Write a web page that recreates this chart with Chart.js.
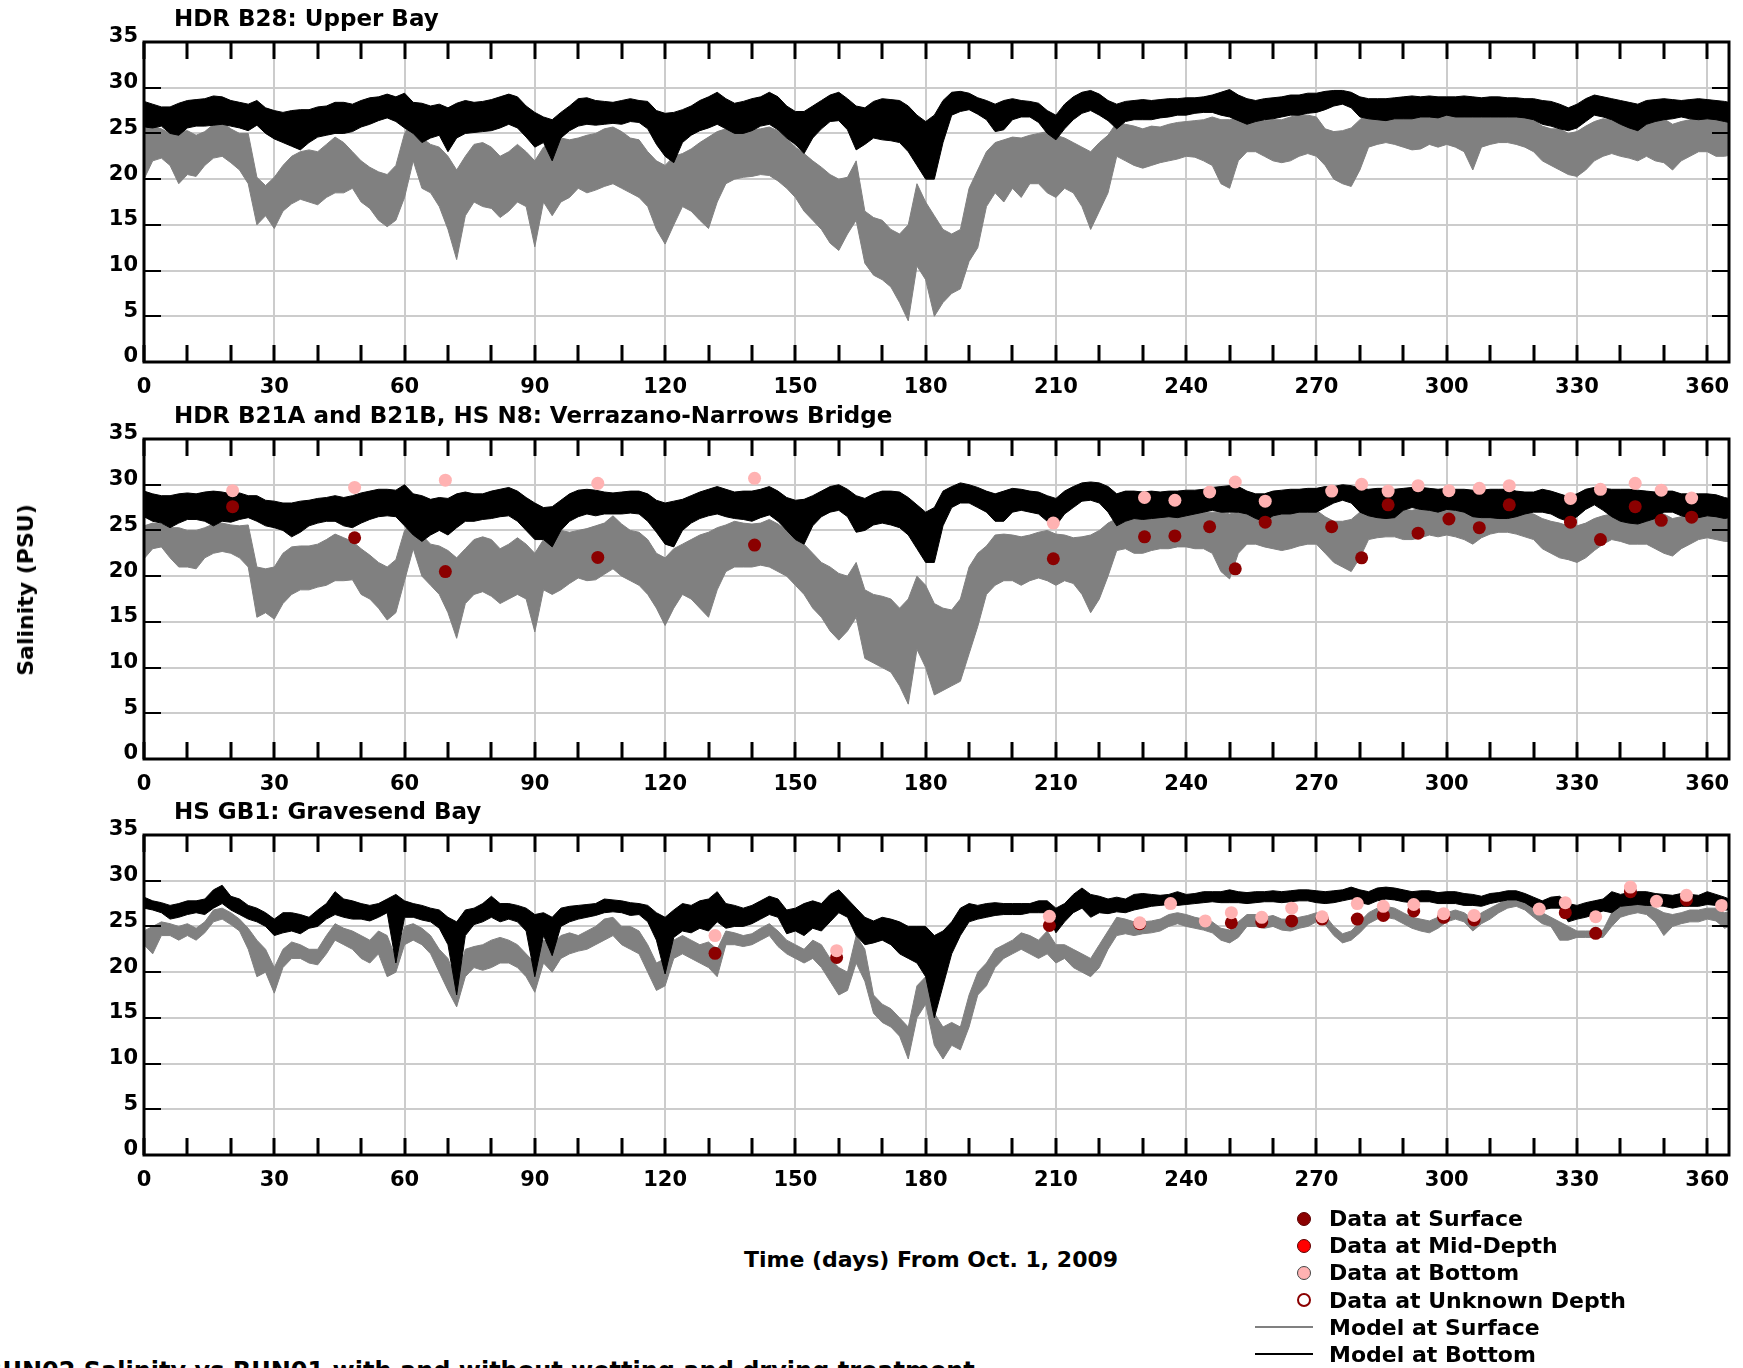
<!DOCTYPE html>
<html>
<head>
<meta charset="utf-8">
<script src="https://cdn.jsdelivr.net/npm/chart.js@4.4.1/dist/chart.umd.min.js"></script>
<style>
  html, body { margin: 0; padding: 0; background: #fff; }
  body { width: 1743px; height: 1368px; position: relative; overflow: hidden; font-family: "DejaVu Sans", sans-serif; font-weight: bold; color: #000; }
  .cv { position: absolute; left: 0; }
  .txt { position: absolute; white-space: nowrap; line-height: 1; }
  .dot { position: absolute; width: 14px; height: 14px; border-radius: 50%; box-sizing: border-box; }
  .lg-line { position: absolute; height: 2px; }
</style>
</head>
<body>
<canvas id="c1" class="cv" width="1743" height="400" style="top:22px"></canvas>
<canvas id="c2" class="cv" width="1743" height="400" style="top:419px"></canvas>
<canvas id="c3" class="cv" width="1743" height="400" style="top:815px"></canvas>

<div class="txt" style="left:174px; top:7px; font-size:23px;">HDR B28: Upper Bay</div>
<div class="txt" style="left:174px; top:404px; font-size:23px;">HDR B21A and B21B, HS N8: Verrazano-Narrows Bridge</div>
<div class="txt" style="left:174px; top:800px; font-size:23px;">HS GB1: Gravesend Bay</div>

<div class="txt" style="left:26px; top:590px; font-size:22px; transform: translate(-50%,-50%) rotate(-90deg); transform-origin: center;">Salinity (PSU)</div>
<div class="txt" style="left:931px; top:1249px; font-size:22px; transform: translateX(-50%);">Time (days) From Oct. 1, 2009</div>

<div class="dot" style="left:1297px; top:1212px; background:#8b0000; border:1px solid #5a0000;"></div>
<div class="txt" style="left:1329px; top:1208px; font-size:22px;">Data at Surface</div>
<div class="dot" style="left:1297px; top:1239px; background:#ff0000; border:1px solid #5a0000;"></div>
<div class="txt" style="left:1329px; top:1235px; font-size:22px;">Data at Mid-Depth</div>
<div class="dot" style="left:1297px; top:1266px; background:#ffb2b2; border:1px solid #444;"></div>
<div class="txt" style="left:1329px; top:1262px; font-size:22px;">Data at Bottom</div>
<div class="dot" style="left:1297px; top:1293px; background:#fff; border:2px solid #8b0000;"></div>
<div class="txt" style="left:1329px; top:1290px; font-size:22px;">Data at Unknown Depth</div>
<div class="lg-line" style="left:1255px; top:1326px; width:58px; background:#808080;"></div>
<div class="txt" style="left:1329px; top:1317px; font-size:22px;">Model at Surface</div>
<div class="lg-line" style="left:1255px; top:1353px; width:58px; background:#000;"></div>
<div class="txt" style="left:1329px; top:1344px; font-size:22px;">Model at Bottom</div>

<div class="txt" style="left:-16px; top:1359px; font-size:24px;">RUN02 Salinity vs RUN01 with and without wetting and drying treatment</div>

<script>
// ---------------- DATA ----------------
const days = [0,2,4,6,8,10,12,14,16,18,20,22,24,26,28,30,32,34,36,38,40,42,44,46,48,50,52,54,56,58,60,62,64,66,68,70,
72,74,76,78,80,82,84,86,88,90,92,94,96,98,100,102,104,106,108,110,112,114,116,118,120,122,124,126,128,130,132,134,136,138,140,142,
144,146,148,150,152,154,156,158,160,162,164,166,168,170,172,174,176,178,180,182,184,186,188,190,192,194,196,198,200,202,204,206,208,210,212,214,
216,218,220,222,224,226,228,230,232,234,236,238,240,242,244,246,248,250,252,254,256,258,260,262,264,266,268,270,272,274,276,278,280,282,284,286,
288,290,292,294,296,298,300,302,304,306,308,310,312,314,316,318,320,322,324,326,328,330,332,334,336,338,340,342,344,346,348,350,352,354,356,358,
360,362,364,365];

const xTickDays = [0,10,20,30,40,50,60,70,80,90,100,110,120,130,140,150,160,170,180,190,200,210,220,230,240,250,260,270,280,290,300,310,320,330,340,350,360];
const yTickVals = [0,5,10,15,20,25,30,35];

// Panel 1: HDR B28 Upper Bay
const p1BottomHi = [28.5,28.2,27.9,27.9,28.3,28.6,28.7,28.8,29.1,29.0,28.6,28.4,
28.2,28.6,27.8,27.5,27.3,27.5,27.6,27.6,27.9,28.0,28.4,28.4,
28.2,28.6,28.9,29.0,29.3,29.0,29.4,28.4,28.3,28.0,28.2,27.8,
28.3,28.6,28.4,28.5,28.7,29.0,29.3,29.0,28.0,27.3,26.8,26.5,
27.3,28.0,28.8,28.9,28.6,28.5,28.4,28.6,28.8,28.6,28.5,27.5,
27.2,27.3,27.6,28.0,28.6,29.0,29.5,28.8,28.3,28.5,28.8,29.0,
29.5,29.0,28.0,27.4,27.4,28.0,28.6,29.2,29.5,28.8,28.0,27.8,
28.5,28.8,28.7,28.6,28.0,27.0,26.3,27.0,28.6,29.5,29.6,29.4,
28.9,28.6,28.2,28.6,28.8,28.6,28.5,28.3,27.5,27.0,28.2,29.0,
29.5,29.7,29.3,28.6,28.2,28.5,28.6,28.7,28.6,28.7,28.8,28.8,
28.9,28.9,29.0,29.2,29.5,29.8,29.2,28.8,28.6,28.8,28.9,29.0,
29.2,29.2,29.4,29.4,29.6,29.7,29.7,29.5,29.0,28.8,28.8,28.8,
28.9,29.0,29.1,29.0,29.1,29.0,29.0,29.0,29.1,29.0,28.9,29.0,
29.0,28.9,28.9,28.8,28.8,28.6,28.5,28.2,27.8,28.2,28.8,29.2,
29.0,28.8,28.6,28.4,28.2,28.6,28.7,28.8,28.7,28.6,28.7,28.8,
28.7,28.6,28.5,28.4];
const p1BottomLo = [25.7,25.6,25.8,25.0,24.8,25.6,25.8,25.8,25.9,26.0,25.8,25.6,
25.3,25.9,25.0,24.4,24.0,23.6,23.2,24.0,24.6,24.8,25.0,25.0,
25.2,25.7,26.0,26.4,26.7,26.3,25.6,25.0,24.0,24.5,24.8,23.0,
24.5,25.0,25.1,25.2,25.3,25.6,26.0,25.6,24.6,23.5,24.0,22.0,
24.5,25.3,25.8,26.0,25.9,26.0,26.1,26.0,26.3,26.2,25.5,23.8,
22.5,21.8,24.0,24.8,25.3,25.6,26.0,25.5,25.0,25.0,25.3,25.8,
26.0,25.4,24.5,23.8,22.8,24.5,25.5,26.3,26.4,25.4,23.2,23.8,
24.5,24.3,24.2,24.0,23.0,21.5,20.0,20.0,24.0,27.0,27.4,27.6,
27.1,26.5,25.2,25.4,26.5,26.8,26.8,26.2,25.0,24.3,25.5,26.5,
27.2,27.5,27.0,26.4,25.5,26.3,26.5,26.5,26.5,26.7,26.8,27.0,
27.0,27.2,27.3,27.3,27.0,26.8,26.4,26.0,26.3,26.5,26.6,26.8,
27.0,27.0,27.2,27.3,27.6,28.0,28.2,27.8,26.8,26.6,26.5,26.4,
26.6,26.6,26.6,26.8,26.8,26.7,27.0,26.8,26.8,26.8,26.8,26.8,
26.8,26.8,26.8,26.7,26.5,26.0,25.8,25.5,25.3,25.6,26.3,27.0,
26.8,26.5,26.0,25.6,25.3,26.0,26.3,26.5,26.6,26.8,26.6,26.5,
26.6,26.5,26.3,26.2];
const p1SurfaceHi = [25.5,25.8,25.5,25.0,25.2,25.3,24.8,25.2,26.0,26.2,25.5,25.0,
25.0,20.2,19.3,20.2,21.5,22.5,23.0,23.2,23.0,23.8,24.6,24.0,
23.0,22.0,21.3,20.8,20.5,21.5,25.0,26.4,24.5,23.8,23.5,22.5,
21.0,22.5,23.8,24.0,23.5,22.5,23.0,23.8,23.0,22.0,23.5,24.0,
24.5,24.3,24.5,24.8,25.0,25.5,25.7,25.2,24.5,24.3,23.0,22.0,
21.5,22.5,22.8,23.3,24.0,24.6,25.2,25.5,25.8,25.6,25.4,25.5,
25.7,25.3,24.5,23.5,22.8,22.0,21.3,20.5,20.0,20.2,22.0,16.5,
15.8,15.5,14.5,14.0,15.0,19.5,17.5,16.0,14.5,14.0,14.5,19.0,
21.0,23.0,24.0,24.3,24.6,24.5,24.8,25.0,25.2,24.8,24.5,24.0,
23.5,23.0,24.0,24.8,26.2,26.0,25.8,25.5,25.8,25.7,26.0,26.2,
26.3,26.4,26.5,26.8,26.5,26.5,26.8,27.0,26.6,26.4,26.5,26.5,
26.8,27.0,27.0,26.8,25.5,25.2,25.3,25.6,26.5,27.2,27.4,27.3,
27.5,27.2,27.3,27.5,27.5,27.2,27.3,27.0,27.0,26.8,27.0,27.2,
27.3,27.2,27.0,26.8,26.5,25.8,25.5,25.5,25.0,25.2,25.8,26.3,
26.6,26.5,26.4,26.0,26.2,26.5,26.8,26.6,26.0,26.3,26.5,26.8,
27.0,26.5,26.3,26.2];
const p1SurfaceLo = [20.0,22.0,22.3,21.5,19.5,20.5,20.3,21.5,22.3,22.5,21.8,21.0,
19.5,15.0,16.0,14.6,16.5,17.3,17.8,17.5,17.2,18.0,18.5,18.5,
19.0,17.5,16.8,15.5,14.8,15.5,18.0,22.0,19.0,18.5,17.0,14.5,
11.2,16.0,17.5,17.0,16.8,15.8,16.5,17.5,17.0,12.6,17.5,16.0,
17.5,18.0,19.0,18.5,18.8,19.2,19.5,19.0,18.5,18.0,17.0,14.5,
12.9,15.0,17.0,16.5,15.5,14.6,17.5,19.5,20.0,20.2,20.3,20.5,
20.4,19.8,19.0,18.0,16.5,15.5,14.5,13.0,12.2,14.0,15.5,10.8,
9.5,9.0,8.2,6.5,4.5,10.5,9.0,5.0,6.5,7.5,8.0,11.0,
12.5,17.0,18.5,17.5,19.0,18.0,19.5,19.5,18.5,18.0,19.0,18.5,
17.0,14.5,16.5,18.5,22.5,22.0,21.5,21.2,21.5,21.8,22.0,22.2,
22.5,22.4,22.0,21.5,19.5,19.0,22.0,23.0,23.0,22.5,22.0,21.8,
22.0,22.5,22.8,22.5,21.5,20.0,19.5,19.2,21.0,23.5,23.8,24.0,
23.8,23.5,23.2,23.3,23.8,23.5,23.8,23.5,23.0,21.0,23.5,23.8,
24.0,24.0,23.8,23.5,23.0,22.0,21.5,21.0,20.5,20.3,21.0,22.0,
22.5,22.8,22.5,22.3,22.0,22.5,22.0,21.8,21.0,22.0,22.5,23.0,
23.0,22.5,22.5,22.6];

// Panel 2: HDR B21A/B21B, HS N8 Verrazano-Narrows Bridge
const p2BottomHi = [29.3,29.0,28.8,28.8,29.0,29.1,29.0,29.2,29.3,29.2,29.0,29.1,
28.8,28.8,28.3,28.2,28.0,28.0,28.2,28.3,28.5,28.6,28.8,28.6,
28.8,29.1,29.3,29.5,29.5,29.4,30.0,29.0,28.8,28.4,28.6,28.5,
29.0,29.2,29.0,29.0,29.3,29.5,29.7,29.3,28.6,28.0,27.5,27.6,
28.3,29.0,29.4,29.5,29.4,29.2,29.1,29.2,29.3,29.3,29.0,28.3,
28.0,28.2,28.4,28.8,29.2,29.5,29.8,29.5,29.2,29.3,29.3,29.5,
29.8,29.3,28.6,28.3,28.4,28.8,29.3,29.8,30.0,29.5,28.8,28.5,
29.0,29.3,29.3,29.2,28.6,27.8,27.0,27.5,29.3,29.8,30.2,30.0,
29.7,29.3,29.0,29.3,29.6,29.5,29.3,29.2,28.8,28.5,29.3,29.8,
30.2,30.3,30.2,29.8,29.0,29.3,29.3,29.2,29.3,29.2,29.3,29.3,
29.4,29.4,29.5,29.7,29.8,29.9,29.8,29.3,29.0,29.0,29.3,29.4,
29.5,29.5,29.6,29.6,29.8,29.8,30.0,29.9,29.6,29.5,29.6,29.6,
29.5,29.6,29.7,29.7,29.6,29.5,29.6,29.5,29.5,29.4,29.4,29.5,
29.5,29.5,29.3,29.2,29.2,29.5,29.3,29.0,28.7,29.0,29.5,29.7,
29.6,29.5,29.5,29.5,29.4,29.3,29.2,29.3,29.3,29.0,29.0,29.0,
29.0,28.9,28.6,28.5];
const p2BottomLo = [26.5,26.0,25.8,25.3,25.8,26.2,26.2,26.0,25.5,26.0,25.9,26.2,
26.4,26.0,25.5,25.3,25.0,24.3,24.8,25.5,25.8,26.0,26.0,25.5,
25.3,25.8,26.2,26.5,26.6,26.5,25.5,24.5,23.8,24.5,25.0,24.5,
25.3,26.0,26.0,26.2,26.3,26.5,26.6,26.0,25.0,24.0,24.0,23.2,
25.0,26.0,26.5,26.8,26.6,26.8,26.8,26.8,26.9,26.8,26.0,24.8,
23.5,23.2,25.0,25.8,26.3,26.6,26.8,26.5,26.3,26.2,26.0,26.4,
26.7,26.0,25.0,24.0,23.5,25.5,26.5,27.0,27.2,26.5,24.8,25.0,
25.6,25.8,25.6,25.3,24.5,23.0,21.5,21.5,25.5,27.5,28.0,28.0,
27.5,27.0,26.0,26.0,27.0,27.2,27.0,26.8,26.0,25.5,26.8,27.5,
28.2,28.3,28.0,27.0,25.5,26.0,26.3,26.2,26.3,26.4,26.5,26.4,
26.6,26.8,27.0,27.2,27.0,27.0,27.0,26.8,26.3,26.0,26.6,26.8,
26.8,27.0,27.0,27.0,27.5,28.0,28.3,28.0,27.0,26.6,26.4,26.3,
26.4,27.2,27.5,27.3,27.2,27.0,27.3,27.2,27.0,26.5,26.4,26.4,
26.3,26.3,26.5,26.8,27.0,27.0,26.8,26.3,26.0,26.5,27.3,27.8,
27.2,26.5,26.0,25.8,25.7,26.0,26.3,27.0,27.0,26.6,26.4,26.4,
26.6,26.5,26.3,26.4];
const p2SurfaceHi = [25.5,25.8,25.7,25.3,25.3,25.0,25.0,25.3,25.7,25.8,25.6,25.5,
25.6,21.0,20.8,21.0,22.5,23.2,23.3,23.3,23.5,24.0,24.6,24.2,
23.8,23.0,22.3,21.5,21.0,21.8,25.0,26.0,24.5,23.5,23.3,22.8,
22.0,23.0,24.0,24.3,24.0,23.0,23.5,24.2,23.5,22.5,24.0,24.5,
25.0,24.8,25.0,25.2,25.5,25.8,26.6,25.7,25.0,24.8,24.0,22.5,
22.0,23.0,23.5,24.0,24.5,24.8,25.3,25.6,26.0,25.8,25.7,25.8,
26.2,25.7,25.0,24.0,23.5,22.5,21.5,21.0,20.3,20.0,21.5,18.5,
18.0,17.8,17.5,16.5,17.5,20.0,19.0,17.0,16.5,16.3,17.5,21.0,
22.5,23.3,24.5,24.6,24.5,24.3,24.5,24.8,25.0,24.6,24.5,24.2,
24.3,24.5,25.0,25.8,26.3,26.5,26.3,26.2,26.5,26.4,26.6,26.8,
26.8,26.8,27.0,27.0,27.0,26.8,27.0,27.2,27.0,26.8,27.0,27.0,
27.2,27.3,27.3,27.2,26.5,26.0,26.0,26.2,27.0,27.3,27.3,27.2,
27.3,27.3,27.2,27.4,27.5,27.3,27.4,27.2,27.0,26.8,27.0,27.3,
27.5,27.4,27.2,27.0,26.8,26.3,26.0,25.8,25.5,25.5,25.8,26.3,
26.6,26.8,26.8,26.5,26.6,27.0,27.0,26.8,26.3,26.5,26.8,27.0,
27.2,27.0,26.8,26.6];
const p2SurfaceLo = [21.9,23.0,23.2,22.0,21.0,21.0,20.8,22.0,22.5,22.7,22.5,22.0,
21.0,15.5,16.0,15.3,17.0,18.0,18.5,18.5,18.8,19.0,19.5,19.5,
19.6,18.0,17.5,16.5,15.2,16.0,19.5,23.0,20.0,19.0,18.0,16.0,
13.2,17.0,18.0,18.3,17.8,17.0,17.5,18.0,17.5,13.9,18.5,18.0,
18.5,19.2,19.8,19.5,19.6,20.2,20.8,20.0,19.5,19.0,18.0,16.5,
14.6,16.5,18.0,17.5,16.5,15.5,18.5,20.5,21.0,21.0,21.0,21.2,
21.0,20.5,20.0,19.0,18.0,16.5,15.5,14.0,13.0,14.0,15.5,11.0,
10.5,10.0,9.5,8.0,6.0,12.0,10.0,7.0,7.5,8.0,8.5,11.5,
14.5,18.0,19.0,19.5,19.5,19.0,19.5,19.8,19.5,19.0,19.5,19.2,
18.0,16.0,17.5,20.0,22.8,23.0,22.5,22.5,22.8,23.0,23.0,23.2,
23.2,23.0,23.0,22.5,20.5,19.7,22.5,23.5,23.5,23.2,23.0,22.8,
23.0,23.3,23.5,23.5,22.5,21.5,21.0,20.5,22.0,24.0,24.2,24.3,
24.3,24.0,24.0,24.2,24.5,24.3,24.5,24.3,24.0,23.5,24.2,24.6,
24.8,24.8,24.6,24.3,24.0,23.0,22.5,22.0,21.8,21.5,22.0,22.8,
23.5,24.0,23.8,23.5,23.5,23.5,23.0,22.5,22.2,23.0,23.5,24.0,
24.2,24.0,23.8,23.8];
const p2ObsDays = [20.4,48.5,69.4,104.5,140.6,209.4,230.4,237.4,245.4,251.3,258.2,273.5,280.4,286.5,293.4,300.5,307.5,314.4,328.5,335.4,343.4,349.4,356.4];
const p2ObsBottom = [29.35,29.7,30.5,30.15,30.7,25.8,28.6,28.3,29.2,30.3,28.2,29.3,30.05,29.3,29.9,29.35,29.6,29.9,28.5,29.5,30.15,29.4,28.55];
const p2ObsSurface = [27.6,24.2,20.5,22.05,23.4,21.9,24.3,24.4,25.4,20.8,25.9,25.4,22.0,27.8,24.7,26.25,25.3,27.8,25.9,24.0,27.6,26.1,26.45];

// Panel 3: HS GB1 Gravesend Bay
const p3BottomHi = [28.2,27.8,27.6,27.3,27.5,27.8,27.8,28.0,29.0,29.5,28.3,28.0,
27.3,27.0,26.5,25.8,26.5,26.5,26.3,26.0,26.8,27.5,28.8,28.0,
27.8,27.5,27.3,27.5,28.0,28.5,27.8,27.5,27.3,27.0,26.8,26.0,
25.5,26.8,27.0,27.5,28.3,27.5,27.5,27.3,27.0,26.3,26.5,26.0,
27.0,27.2,27.3,27.4,27.5,28.0,27.9,27.8,27.6,27.5,27.3,26.5,
26.0,26.8,27.5,27.3,27.8,28.0,28.8,27.5,27.3,27.0,27.3,27.8,
28.3,28.0,26.8,27.0,27.5,27.8,27.5,28.5,29.0,28.0,27.0,26.0,
25.6,26.0,25.8,25.5,25.0,25.0,25.0,24.0,24.5,25.5,27.0,27.5,
27.3,27.5,27.6,27.5,27.5,27.5,27.5,27.8,27.8,27.0,27.5,28.5,
29.2,28.5,28.3,28.0,28.2,28.0,28.5,28.6,28.5,28.4,28.5,28.8,
28.5,28.6,28.8,28.8,28.8,29.0,28.8,28.7,28.8,28.8,28.9,28.8,
28.9,29.0,29.0,28.9,28.8,28.9,29.0,29.3,29.0,28.8,29.2,29.3,
29.2,29.0,28.8,28.9,28.9,28.7,28.8,28.8,28.6,28.5,28.3,28.6,
28.7,28.9,28.9,28.6,28.2,27.8,28.2,28.3,27.5,27.3,27.6,27.8,
28.0,28.8,28.5,28.7,28.8,28.8,28.6,28.5,28.4,28.6,28.5,28.4,
28.8,28.5,28.2,28.0];
const p3BottomLo = [27.0,26.8,26.5,25.8,26.0,26.3,26.5,26.3,27.0,27.5,26.8,26.3,
25.8,25.5,25.0,24.0,24.3,24.5,24.2,24.8,25.0,25.8,26.3,26.0,
25.8,25.8,25.6,26.0,26.5,21.0,26.0,26.0,25.7,25.5,24.8,23.0,
17.5,24.0,25.2,25.5,26.0,25.5,25.8,25.5,24.5,19.5,24.0,21.8,
25.0,25.5,25.8,26.0,26.2,26.5,26.6,26.5,26.2,26.3,25.5,23.5,
19.8,23.8,24.5,24.3,24.8,24.5,25.5,24.8,25.0,25.0,25.3,25.8,
26.3,26.0,24.2,24.5,24.0,24.8,24.5,25.5,26.5,26.0,24.0,23.0,
23.2,23.5,23.0,22.0,21.5,21.0,19.5,15.0,18.5,22.0,24.0,25.5,
25.8,26.0,26.2,26.3,26.3,26.3,26.5,26.5,26.5,24.3,25.5,26.5,
27.0,26.0,26.5,26.4,26.6,26.5,26.8,27.0,27.2,27.3,27.4,27.3,
27.4,27.5,27.6,27.7,27.6,27.6,27.6,27.5,27.6,27.7,27.7,27.6,
27.7,27.8,27.8,27.6,27.5,27.6,27.8,28.0,27.6,27.4,27.8,28.0,
27.9,27.7,27.6,27.7,27.7,27.5,27.5,27.5,27.3,27.3,27.2,27.5,
27.7,27.9,27.9,27.6,27.0,26.8,27.0,27.0,25.5,25.8,26.0,26.3,
26.7,26.5,27.2,27.3,27.4,27.3,27.3,27.2,27.0,27.2,27.2,27.2,
27.4,27.3,26.8,26.8];
const p3SurfaceHi = [24.5,25.0,25.5,25.3,25.0,25.3,24.8,25.5,26.8,27.0,26.5,25.8,
24.8,23.5,22.5,20.5,22.5,23.3,23.0,22.5,22.5,24.0,25.3,24.8,
24.5,24.0,23.5,24.5,24.0,21.5,25.0,25.3,24.8,24.0,22.5,21.5,
19.0,22.5,22.8,23.0,23.5,23.8,23.5,23.0,22.0,21.0,23.5,23.0,
24.0,24.3,24.0,24.5,25.0,25.8,26.0,25.0,25.0,24.5,23.0,21.0,
21.5,23.5,24.0,23.5,23.0,23.3,22.5,24.5,24.3,24.0,24.2,24.8,
25.3,24.5,23.5,23.0,22.5,23.5,23.0,21.5,20.5,20.0,24.0,22.5,
17.5,16.5,16.0,15.0,14.0,18.5,19.5,15.5,14.0,14.5,14.0,17.5,
20.0,21.0,22.5,23.0,23.5,24.3,24.0,23.5,24.5,23.0,23.0,22.5,
22.0,21.5,23.0,24.5,26.0,25.8,25.5,25.5,25.6,25.8,26.3,26.5,
26.3,26.0,25.8,25.5,24.8,24.6,25.5,26.3,26.3,26.0,26.2,25.8,
25.8,26.0,26.2,26.5,26.2,25.0,24.2,24.5,25.5,26.5,27.0,27.2,
27.0,26.5,26.0,25.8,25.6,26.0,26.5,26.8,26.5,25.8,26.5,27.0,
27.5,28.0,28.2,27.8,27.0,26.5,26.0,25.5,25.0,24.5,24.5,24.5,
24.6,26.5,27.3,27.5,27.6,27.5,27.0,26.5,26.3,26.5,26.8,26.8,
27.0,27.0,26.5,26.6];
const p3SurfaceLo = [23.0,22.0,24.0,24.0,23.5,24.0,23.5,24.3,25.5,25.8,25.2,24.5,
22.5,19.5,20.0,17.7,20.5,21.5,21.5,21.0,20.8,22.0,23.5,23.0,
22.5,21.5,21.0,22.0,19.5,20.0,23.0,23.5,23.0,22.0,20.0,18.0,
16.2,19.5,20.5,20.2,20.5,21.0,21.0,20.5,19.5,17.8,21.0,20.0,
21.5,22.0,22.3,22.5,23.0,23.5,24.0,23.0,22.5,22.0,20.0,18.0,
18.5,21.5,22.0,21.5,21.0,20.5,19.5,23.0,23.0,22.8,23.0,23.5,
24.0,22.8,22.0,21.5,21.0,21.5,20.5,19.0,17.5,18.0,21.0,19.0,
15.5,14.5,14.0,13.0,10.5,15.0,16.5,12.0,10.5,12.0,11.5,14.0,
17.5,18.5,20.5,21.5,22.0,22.5,22.0,21.5,22.0,21.0,21.5,20.5,
20.0,19.5,20.5,22.5,24.0,24.2,24.0,24.2,24.3,24.5,25.0,25.3,
25.0,24.8,24.6,24.3,23.5,23.2,23.8,25.0,25.0,24.8,25.0,24.6,
24.5,24.8,25.0,25.5,25.2,24.0,23.2,23.5,24.3,25.3,25.8,26.0,
25.8,25.3,24.8,24.5,24.3,24.8,25.5,25.8,25.5,24.5,25.3,25.8,
26.5,27.0,27.2,26.8,26.0,25.3,25.0,23.5,23.5,23.8,23.8,23.8,
23.8,25.0,26.0,26.3,26.5,26.3,25.5,24.0,25.0,25.3,25.5,25.5,
25.8,25.6,24.8,25.0];
const p3ObsDays = [131.5,159.5,208.5,229.3,236.4,244.4,250.4,257.4,264.3,271.3,279.4,285.4,292.4,299.3,306.3,321.3,327.3,334.3,342.3,348.3,355.2,363.3];
const p3ObsBottom = [24.0,22.35,26.1,25.4,27.5,25.6,26.5,26.0,27.0,26.06,27.5,27.2,27.4,26.4,26.2,26.9,27.6,26.06,29.3,27.75,28.4,27.3];
const p3ObsSurface = [22.06,21.6,25.1,25.3,null,null,25.4,25.5,25.6,25.8,25.8,26.2,26.7,26.0,25.7,null,26.5,24.25,28.8,null,27.9,null];

// ---------------- STYLE ----------------
const C_SURF_OBS = '#8b0000';
const C_BOT_OBS = '#ffb2b2';
const C_MODEL_SURF = '#808080';
const C_MODEL_BOT = '#000000';
const FONT = 'DejaVu Sans';

function xy(xs, ys) { return xs.map((d, i) => ({ x: d, y: ys[i] })); }

function bandPair(lo, hi, color) {
  return [
    { data: xy(days, lo), borderColor: color, borderWidth: 1, pointRadius: 0, fill: false, tension: 0 },
    { data: xy(days, hi), borderColor: color, borderWidth: 1, pointRadius: 0, fill: '-1', backgroundColor: color, tension: 0 }
  ];
}
function obsSet(xs, ys, color) {
  return { data: xy(xs, ys), showLine: false, pointRadius: 6.5, pointBorderWidth: 0,
           pointBackgroundColor: color, pointBorderColor: color, backgroundColor: color };
}

const framePlugin = {
  id: 'frame',
  afterDatasetsDraw(chart) {
    const { ctx, chartArea: { left, right, top, bottom }, scales: { x, y } } = chart;
    ctx.save();
    ctx.strokeStyle = '#000';
    ctx.lineWidth = 3;
    ctx.beginPath();
    for (const d of xTickDays) {
      const px = Math.round(x.getPixelForValue(d));
      ctx.moveTo(px, top); ctx.lineTo(px, top + 17);
      ctx.moveTo(px, bottom); ctx.lineTo(px, bottom - 17);
    }
    ctx.stroke();
    ctx.lineWidth = 2;
    ctx.beginPath();
    for (const v of yTickVals) {
      const py = Math.round(y.getPixelForValue(v));
      ctx.moveTo(left, py); ctx.lineTo(left + 17, py);
      ctx.moveTo(right, py); ctx.lineTo(right - 17, py);
    }
    ctx.stroke();
    ctx.lineWidth = 3;
    ctx.strokeRect(left, top, right - left, bottom - top);
    ctx.restore();
  }
};

function makePanel(id, datasets) {
  return new Chart(document.getElementById(id), {
    type: 'line',
    data: { datasets },
    options: {
      responsive: false, animation: false, events: [],
      layout: { padding: { top: 20, right: 14, left: 0, bottom: 0 } },
      plugins: { legend: { display: false }, tooltip: { enabled: false }, title: { display: false } },
      scales: {
        x: {
          type: 'linear', min: 0, max: 365,
          ticks: { stepSize: 30, includeBounds: false, autoSkip: false, maxRotation: 0,
                   color: '#000', padding: 13, font: { family: FONT, size: 21, weight: 'bold' } },
          grid: { color: '#cccccc', lineWidth: 2, drawTicks: false },
          border: { display: false },
          afterFit: s => { s.height = 60; }
        },
        y: {
          type: 'linear', min: 0, max: 35,
          ticks: { stepSize: 5, color: '#000', padding: 6, labelOffset: -5,
                   font: { family: FONT, size: 21, weight: 'bold' } },
          grid: { color: '#cccccc', lineWidth: 2, drawTicks: false },
          border: { display: false },
          afterFit: s => { s.width = 144; }
        }
      }
    },
    plugins: [framePlugin]
  });
}

// draw order: index 0 on top
makePanel('c1', [
  ...bandPair(p1BottomLo, p1BottomHi, C_MODEL_BOT),
  ...bandPair(p1SurfaceLo, p1SurfaceHi, C_MODEL_SURF)
]);
makePanel('c2', [
  obsSet(p2ObsDays, p2ObsBottom, C_BOT_OBS),
  obsSet(p2ObsDays, p2ObsSurface, C_SURF_OBS),
  ...bandPair(p2BottomLo, p2BottomHi, C_MODEL_BOT),
  ...bandPair(p2SurfaceLo, p2SurfaceHi, C_MODEL_SURF)
]);
makePanel('c3', [
  obsSet(p3ObsDays, p3ObsBottom, C_BOT_OBS),
  obsSet(p3ObsDays, p3ObsSurface, C_SURF_OBS),
  ...bandPair(p3BottomLo, p3BottomHi, C_MODEL_BOT),
  ...bandPair(p3SurfaceLo, p3SurfaceHi, C_MODEL_SURF)
]);
</script>
</body>
</html>
